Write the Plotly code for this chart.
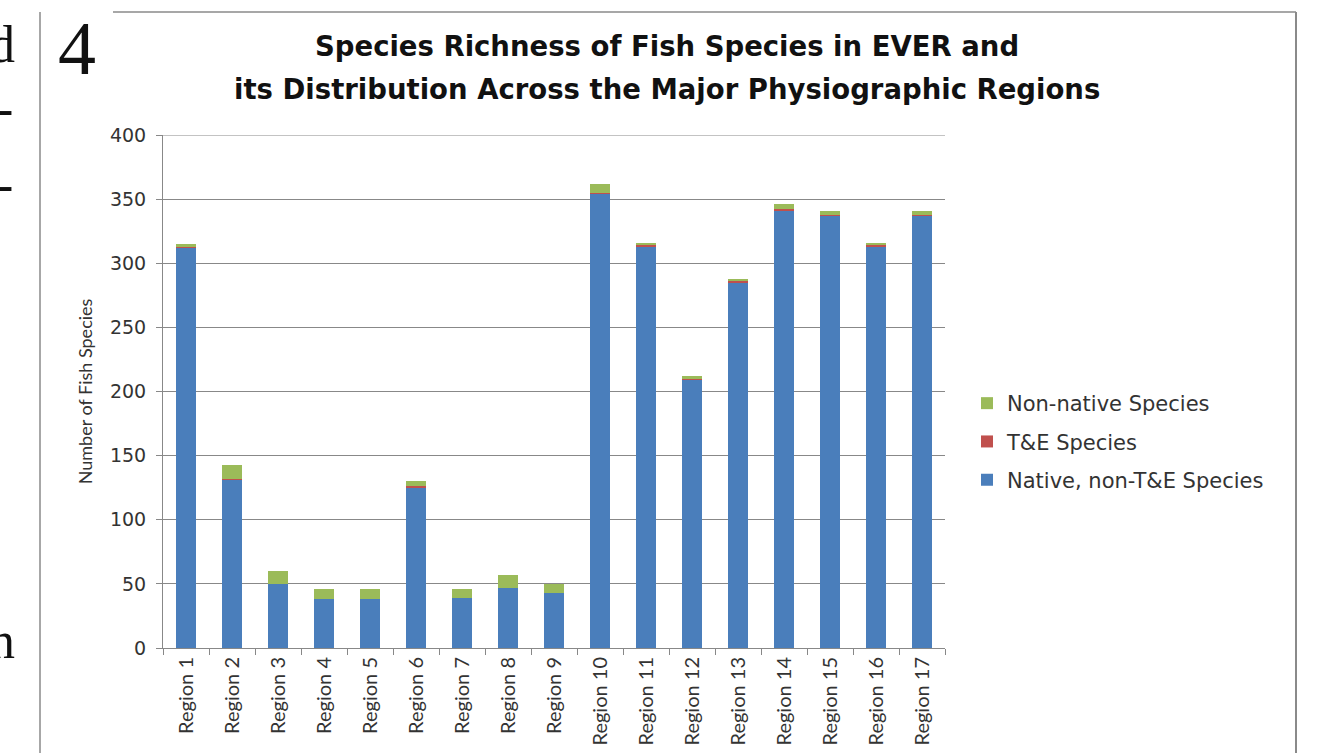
import plotly.graph_objects as go

regions = [f"Region {i}" for i in range(1, 18)]
native = [312, 131, 50, 38, 38, 125, 39, 47, 43, 354, 313, 209, 285, 341, 337, 313, 337]
te = [1, 1, 0, 0, 0, 1, 0, 0, 0, 1, 1, 1, 1, 1, 1, 1, 1]
nonnative = [2, 11, 10, 8, 8, 4, 7, 10, 7, 7, 2, 2, 2, 4, 3, 2, 3]

title_lines = ["Species Richness of Fish Species in EVER and",
               "its Distribution Across the Major Physiographic Regions"]
y_title = "Number of Fish Species"

W, H = 1334, 753
L, R, T, B = 163, 945, 135, 648


def px(x):
    return (x - L) / (R - L)


def py(y):
    return (B - y) / (B - T)


BLUE = "#4A7EBB"
RED = "#C0504D"
GREEN = "#9BBB59"
GRID = "#888888"
TXT = "#333333"
WIDE = "DejaVu Sans"
NARROW = "Lato"

fig = go.Figure()
fig.add_bar(x=regions, y=native, name="Native, non-T&E Species", marker_color=BLUE,
            marker_line_width=0, legendrank=3, legendgroup="c")
fig.add_bar(x=regions, y=te, name="T&E Species", marker_color=RED,
            marker_line_width=0, legendrank=2, legendgroup="b")
fig.add_bar(x=regions, y=nonnative, name="Non-native Species", marker_color=GREEN,
            marker_line_width=0, legendrank=1, legendgroup="a")

annotations = [
    dict(text=f"<b>{title_lines[0]}</b>", x=px(667), y=py(46), font=dict(size=27.5, color="#111", family=WIDE)),
    dict(text=f"<b>{title_lines[1]}</b>", x=px(667), y=py(89), font=dict(size=27.5, color="#111", family=WIDE)),
    dict(text="4", x=px(77), y=py(48), font=dict(size=76, color="#111", family="Liberation Serif")),
    dict(text="d", x=px(2), y=py(44), font=dict(size=52, color="#111", family="Liberation Serif")),
    dict(text="-", x=px(4), y=py(108), font=dict(size=52, color="#111", family="Liberation Serif")),
    dict(text="-", x=px(4), y=py(184), font=dict(size=52, color="#111", family="Liberation Serif")),
    dict(text="n", x=px(2), y=py(640), font=dict(size=52, color="#111", family="Liberation Serif")),
]
for a in annotations:
    a.update(xref="paper", yref="paper", xanchor="center", yanchor="middle", showarrow=False)

shapes = [
    dict(type="line", x0=px(40), x1=px(40), y0=py(12), y1=py(760), line=dict(color="#8a8a8a", width=1.5)),
    dict(type="line", x0=px(113), x1=px(1296), y0=py(12), y1=py(12), line=dict(color="#8a8a8a", width=1.5)),
    dict(type="line", x0=px(1296), x1=px(1296), y0=py(12), y1=py(760), line=dict(color="#8a8a8a", width=2)),
]
for s in shapes:
    s.update(xref="paper", yref="paper", layer="above")
# top gridline at the axis maximum
shapes.append(dict(type="line", xref="paper", yref="y", x0=0, x1=1, y0=400, y1=400,
                   line=dict(color=GRID, width=1), layer="below"))

fig.update_layout(
    width=W, height=H,
    margin=dict(l=L, r=W - R, t=T, b=H - B, pad=0, autoexpand=False),
    barmode="stack", bargap=0.58,
    plot_bgcolor="white", paper_bgcolor="white",
    font=dict(family=WIDE, color=TXT),
    showlegend=True,
    legend=dict(x=px(967), y=py(383), xanchor="left", yanchor="top",
                traceorder="grouped", tracegroupgap=8,
                font=dict(size=21, color=TXT, family=WIDE), bgcolor="rgba(0,0,0,0)"),
    annotations=annotations,
    shapes=shapes,
)
fig.update_yaxes(range=[0, 400], dtick=50, showgrid=True, gridcolor=GRID, gridwidth=1,
                 showline=True, linecolor=GRID, linewidth=1, ticks="outside", ticklen=6,
                 tickcolor=GRID, tickfont=dict(size=19, color=TXT, family=WIDE), zeroline=False,
                 ticklabelstandoff=6, automargin=False,
                 title=dict(text=y_title, font=dict(size=18, color=TXT, family=NARROW),
                            standoff=12))
fig.update_xaxes(showline=True, linecolor=GRID, linewidth=1, ticks="outside", ticklen=6,
                 tickcolor=GRID, tickson="boundaries", tickangle=-90, automargin=False,
                 tickfont=dict(size=20, color=TXT, family=NARROW), showgrid=False)

fig.write_html("out.html")
